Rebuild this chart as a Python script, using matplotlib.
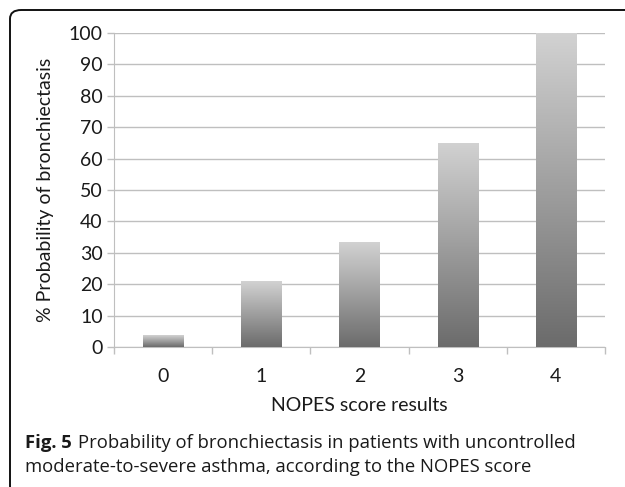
import matplotlib
matplotlib.use('Agg')
import matplotlib.pyplot as plt
import matplotlib.patches as mpatches
from matplotlib.colors import LinearSegmentedColormap
from matplotlib.transforms import offset_copy
import numpy as np

scores = ['0', '1', '2', '3', '4']
probability = [3.7, 21, 33.3, 65, 100]
yticks = list(range(0, 101, 10))

GRID = '#BFBFBF'
TEXT = '#1A1A1A'
cmap = LinearSegmentedColormap.from_list('bar', ['#6B6B6B', '#D2D2D2'])

fig = plt.figure(figsize=(6.25, 4.87), dpi=100)
fig.patch.set_facecolor('white')
ax = fig.add_axes([0.1824, 0.2875, 0.7856, 0.6447])

x = np.arange(len(scores))
w = 0.41
bars = ax.bar(x, probability, w, color='none', zorder=3)
grad = np.linspace(0, 1, 256).reshape(-1, 1)
for b in bars:
    x0, h = b.get_x(), b.get_height()
    im = ax.imshow(grad, cmap=cmap, origin='lower', aspect='auto',
                   extent=[x0, x0 + b.get_width(), 0, h], zorder=3)
    im.set_clip_path(b)

ax.set_xlim(-0.5, len(scores) - 0.5)
ax.set_ylim(0, 100)
ax.set_yticks(yticks)
ax.set_yticklabels([str(t) for t in yticks], fontsize=14, color=TEXT, family='Lato')
ax.set_xticks(x)
ax.set_xticklabels(scores, fontsize=14, color=TEXT, family='Lato')
ax.set_xticks(np.arange(-0.5, len(scores)), minor=True)
ax.tick_params(axis='x', which='major', length=0, pad=15)
ax.tick_params(axis='x', which='minor', length=5, width=1, color=GRID)
ax.tick_params(axis='y', length=5, width=1, color=GRID, pad=3)
ax.yaxis.grid(True, color=GRID, linewidth=1, zorder=0)
ax.set_axisbelow(True)
ax.spines[['top', 'right']].set_visible(False)
ax.spines['left'].set_color(GRID)
ax.spines['bottom'].set_color(GRID)
ax.set_xlabel('NOPES score results', fontsize=14, color=TEXT, family='Lato', labelpad=9)
ax.set_ylabel('% Probability of bronchiectasis', fontsize=14, color=TEXT, family='Lato', labelpad=11)

# caption
y1 = 1 - 443 / 487
y2 = 1 - 467 / 487
t = fig.text(25 / 625, y1, 'Fig. 5', fontsize=13.3, fontweight='bold',
             family='Open Sans', color=TEXT, va='center')
fig.canvas.draw()
bb = t.get_window_extent()
fig.text(bb.x1 / 625 + 6 / 625, y1, 'Probability of bronchiectasis in patients with uncontrolled',
         fontsize=13.3, family='Open Sans', color=TEXT, va='center')
fig.text(25 / 625, y2, 'moderate-to-severe asthma, according to the NOPES score',
         fontsize=13.3, family='Open Sans', color=TEXT, va='center')

# frame around the figure
frame = mpatches.FancyBboxPatch((10 / 625, -8 / 487), 640 / 625, 485 / 487,
                                boxstyle='round,pad=0,rounding_size=0.018',
                                transform=fig.transFigure, fill=False,
                                edgecolor='#111111', linewidth=1.4, clip_on=False)
fig.patches.append(frame)

plt.savefig('out.png', dpi=100)
plt.close()
